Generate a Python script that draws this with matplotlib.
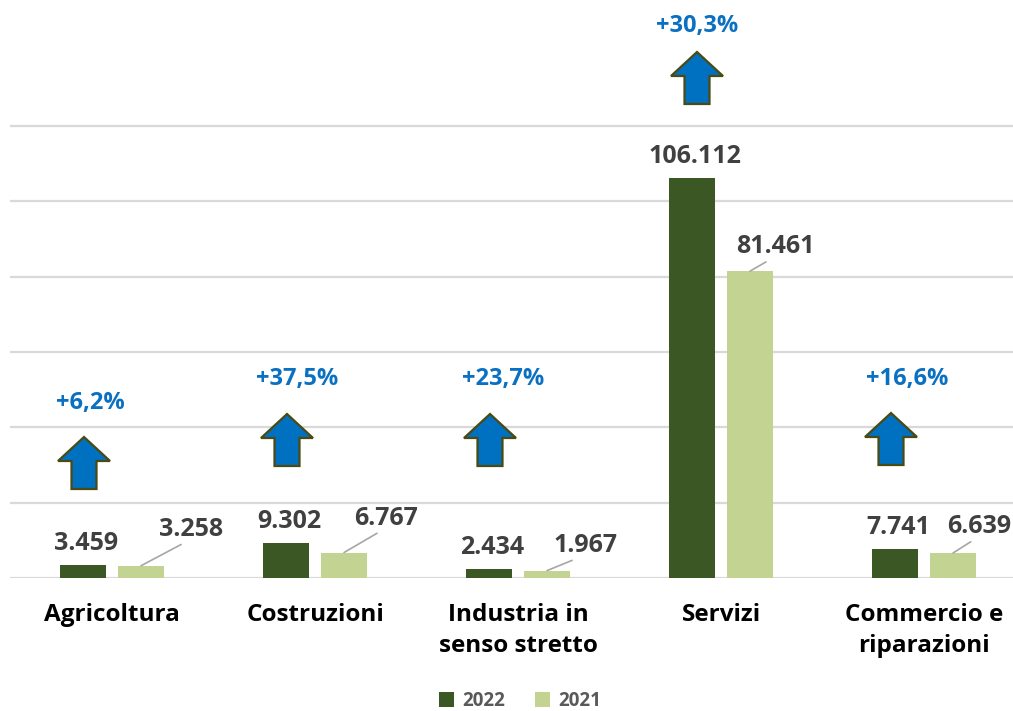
import numpy as np
import matplotlib.pyplot as plt
from matplotlib.patches import FancyArrow, Patch

categories = ['Agricoltura', 'Costruzioni', 'Industria in\nsenso stretto', 'Servizi', 'Commercio e\nriparazioni']
val_2022 = [3459, 9302, 2434, 106112, 7741]
val_2021 = [3258, 6767, 1967, 81461, 6639]
lab_2022 = ['3.459', '9.302', '2.434', '106.112', '7.741']
lab_2021 = ['3.258', '6.767', '1.967', '81.461', '6.639']
variazioni = ['+6,2%', '+37,5%', '+23,7%', '+30,3%', '+16,6%']

dark = '#3A5724'
light = '#C3D492'
grey_txt = '#404040'
blue = '#0A70C2'

plt.rcParams['font.family'] = ['Open Sans', 'DejaVu Sans']

fig = plt.figure(figsize=(10.13, 7.11), dpi=100)
ax = fig.add_axes([10 / 1013, 133 / 711, 1003 / 1013, 578 / 711])

x = np.arange(len(categories))
w = 0.222
off = 0.143
ax.bar(x - off, val_2022, w, color=dark, zorder=3)
ax.bar(x + off, val_2021, w, color=light, zorder=3)

px_y = 452 / 120000   # pixel per unita' in y
px_x = 203.0          # pixel per categoria
ax.set_xlim(-102 / px_x, -102 / px_x + 1003 / px_x)
ax.set_ylim(0, 578 / px_y)
ax.set_yticks(np.arange(0, 120001, 20000))
ax.yaxis.grid(True, color='#D9D9D9', lw=1.6, zorder=0)
ax.tick_params(axis='y', length=0, labelleft=False)
for s in ax.spines.values():
    s.set_visible(False)
ax.set_xticks(x)
ax.set_xticklabels(categories, fontsize=17.5, fontweight='bold', color='black', linespacing=1.4)
ax.tick_params(axis='x', length=0, pad=18)

# etichette 2022 sopra le barre
for i in range(len(x)):
    ax.annotate(lab_2022[i], (x[i] - off, val_2022[i]), xytext=(3, 9), textcoords='offset pixels',
                ha='center', va='bottom', fontsize=18, fontweight='bold', color=grey_txt, zorder=5)

# etichette 2021 spostate con linea guida
lead = [(50, 24), (42, 22), (38, 13), (25, 12), (26, 14)]
for i in range(len(x)):
    dx, dy = lead[i]
    ax.annotate(lab_2021[i], (x[i] + off, val_2021[i]), xytext=(dx, dy), textcoords='offset pixels',
                ha='center', va='bottom', fontsize=18, fontweight='bold', color=grey_txt, zorder=5,
                arrowprops=dict(arrowstyle='-', color='#A6A6A6', lw=1.2, shrinkA=0, shrinkB=0,
                                relpos=(0.5, 0.1)))

# frecce blu e percentuali
arrow_x = [84, 287, 490, 697, 891]
arrow_bottom = [489, 466, 466, 104, 465]
pct_y = [403, 379, 379, 26, 379]
pct_x = [90, 297, 503, 697, 907]
for i in range(len(x)):
    xc = (arrow_x[i] - 112) / px_x
    yb = (578 - arrow_bottom[i]) / px_y
    ar = FancyArrow(xc, yb, 0, 52 / px_y, width=25 / px_x, head_width=52 / px_x,
                    head_length=24 / px_y, length_includes_head=True,
                    facecolor='#0070C0', edgecolor='#4A4A12', lw=1.6, zorder=4)
    ax.add_patch(ar)
    ax.text((pct_x[i] - 112) / px_x, (578 - pct_y[i]) / px_y, variazioni[i], ha='center', va='center',
            fontsize=17, fontweight='bold', color=blue, zorder=5)

handles = [Patch(facecolor=dark, label='2022'), Patch(facecolor=light, label='2021')]
leg = fig.legend(handles=handles, loc='center', bbox_to_anchor=(520 / 1013, 1 - 701 / 711), ncol=2,
                 frameon=False, handlelength=0.8, handleheight=0.8, handletextpad=0.45, columnspacing=1.6,
                 prop={'size': 13.5, 'weight': 'bold'}, borderpad=0.1)
for t in leg.get_texts():
    t.set_color('#595959')

fig.savefig('out.png', dpi=100)
